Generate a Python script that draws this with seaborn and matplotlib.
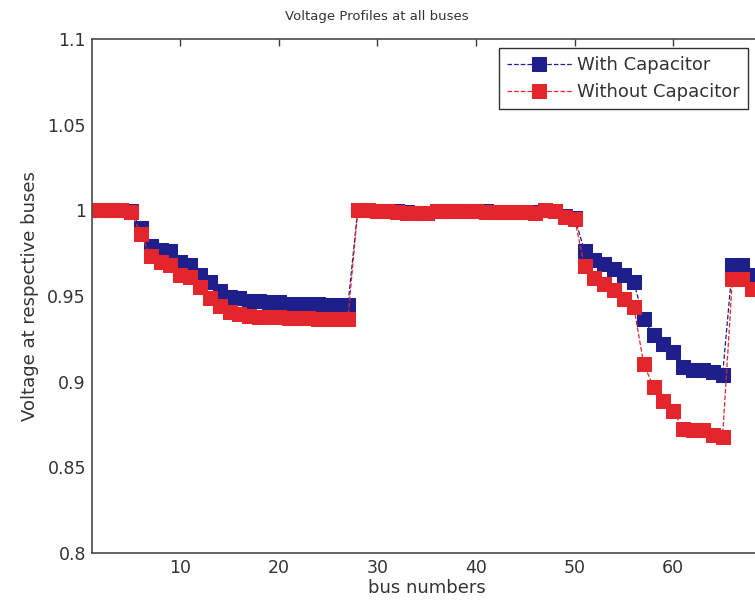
import matplotlib
matplotlib.use("Agg")
import matplotlib.pyplot as plt
import seaborn as sns
import pandas as pd

buses = list(range(1, 70))

with_cap = [
    1.0000, 1.0000, 1.0000, 1.0000, 0.9995, 0.9895, 0.9794, 0.9768, 0.9760, 0.9696,
    0.9682, 0.9624, 0.9579, 0.9530, 0.9495, 0.9487, 0.9472, 0.9468, 0.9467, 0.9466,
    0.9455, 0.9453, 0.9452, 0.9451, 0.9447, 0.9446, 0.9445, 1.0000, 1.0000, 0.9999,
    0.9998, 0.9994, 0.9989, 0.9987, 0.9986, 0.9999, 0.9999, 0.9998, 0.9998, 0.9997,
    0.9995, 0.9993, 0.9993, 0.9992, 0.9991, 0.9990, 1.0003, 0.9996, 0.9968, 0.9958,
    0.9763, 0.9712, 0.9689, 0.9660, 0.9621, 0.9582, 0.9367, 0.9270, 0.9221, 0.9173,
    0.9085, 0.9070, 0.9070, 0.9056, 0.9036, 0.9680, 0.9680, 0.9620, 0.9620,
]

without_cap = [
    1.0000, 1.0000, 1.0000, 1.0000, 0.9993, 0.9862, 0.9731, 0.9696, 0.9682, 0.9624,
    0.9608, 0.9550, 0.9491, 0.9443, 0.9404, 0.9394, 0.9386, 0.9380, 0.9379, 0.9378,
    0.9372, 0.9370, 0.9369, 0.9368, 0.9365, 0.9364, 0.9363, 1.0000, 1.0000, 0.9998,
    0.9997, 0.9992, 0.9986, 0.9985, 0.9985, 0.9999, 0.9998, 0.9997, 0.9997, 0.9996,
    0.9993, 0.9990, 0.9989, 0.9989, 0.9988, 0.9987, 1.0002, 0.9995, 0.9962, 0.9950,
    0.9674, 0.9607, 0.9568, 0.9533, 0.9484, 0.9436, 0.9104, 0.8968, 0.8890, 0.8827,
    0.8724, 0.8718, 0.8718, 0.8686, 0.8675, 0.9601, 0.9601, 0.9543, 0.9543,
]

series_names = ["With Capacitor", "Without Capacitor"]
series_colors = ["#1f1f8c", "#e3262b"]

x_ticks = [10, 20, 30, 40, 50, 60]
y_ticks = [0.8, 0.85, 0.9, 0.95, 1.0, 1.05, 1.1]
y_tick_labels = ["0.8", "0.85", "0.9", "0.95", "1", "1.05", "1.1"]

sns.set_style("white")
plt.rcParams["font.family"] = ["DejaVu Sans"]

fig = plt.figure(figsize=(7.55, 6.07), dpi=100)
ax = fig.add_axes([91.5 / 755, 1 - 553 / 607, (762 - 91.5) / 755, (553 - 39) / 607])

df = pd.DataFrame({"bus": buses, series_names[0]: with_cap, series_names[1]: without_cap})

for name, col in zip(series_names, series_colors):
    sns.lineplot(data=df, x="bus", y=name, ax=ax, color=col, linestyle="--",
                 linewidth=0.9, marker="s", markersize=9.5, markeredgecolor=col,
                 markerfacecolor=col, label=name, errorbar=None)

ax.set_xlim(1, 69)
ax.set_ylim(0.8, 1.1)
ax.set_xticks(x_ticks)
ax.set_yticks(y_ticks)
ax.set_yticklabels(y_tick_labels)
ax.tick_params(direction="in", top=True, right=True, length=5, width=1,
               labelsize=12.5, colors="#3a3a3a", labelcolor="#333333", pad=4)
for s in ax.spines.values():
    s.set_color("#4a4a4a")
    s.set_linewidth(1.2)

ax.set_xlabel("bus numbers", fontsize=13, color="#333333", labelpad=2)
ax.set_ylabel("Voltage at respective buses", fontsize=13, color="#333333", labelpad=6)
ax.set_title("Voltage Profiles at all buses", fontsize=9.5, color="#333333",
             x=(377 - 91.5) / (762 - 91.5), pad=14)

leg = ax.legend(loc="upper right", bbox_to_anchor=(748 / 755, 1 - 48 / 607),
                bbox_transform=fig.transFigure, borderaxespad=0, fancybox=False,
                frameon=True, fontsize=13, handlelength=3.6, numpoints=1,
                labelspacing=0.5, borderpad=0.45, handletextpad=0.3)
leg.get_frame().set_edgecolor("#303030")
leg.get_frame().set_linewidth(1.0)
leg.get_frame().set_alpha(1)
for t in leg.get_texts():
    t.set_color("#333333")

fig.savefig("out.png", dpi=100)
